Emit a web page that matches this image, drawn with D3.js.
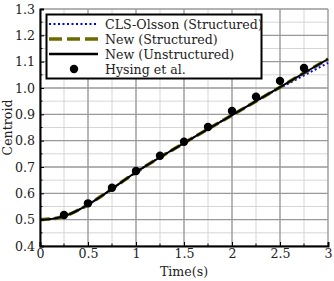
<!DOCTYPE html>
<html>
<head>
<meta charset="utf-8">
<script src="https://cdn.jsdelivr.net/npm/d3@7"></script>
<style>
  body { margin: 0; background: #fff; }
  svg { font-family: "DejaVu Serif", serif; }
</style>
</head>
<body>
<svg id="grafico" width="334" height="281"></svg>
<script>
// dados
const tempos = [0, 0.125, 0.25, 0.375, 0.5, 0.625, 0.75, 0.875, 1.0, 1.125, 1.25, 1.375, 1.5, 1.75, 2.0, 2.25, 2.5, 2.75, 3.0];
const novoEstruturado = [0.500, 0.503, 0.513, 0.532, 0.557, 0.586, 0.617, 0.649, 0.680, 0.709, 0.737, 0.764, 0.791, 0.844, 0.897, 0.950, 1.003, 1.057, 1.110];
const novoNaoEstruturado = [0.500, 0.503, 0.513, 0.532, 0.557, 0.586, 0.617, 0.649, 0.680, 0.709, 0.737, 0.764, 0.791, 0.844, 0.897, 0.950, 1.003, 1.057, 1.110];
const clsOlsson = [0.500, 0.503, 0.513, 0.532, 0.557, 0.586, 0.617, 0.649, 0.680, 0.709, 0.737, 0.764, 0.791, 0.844, 0.897, 0.950, 1.000, 1.048, 1.095];
const temposHysing = [0.25, 0.5, 0.75, 1.0, 1.25, 1.5, 1.75, 2.0, 2.25, 2.5, 2.75];
const valoresHysing = [0.518, 0.562, 0.621, 0.685, 0.743, 0.796, 0.852, 0.913, 0.967, 1.027, 1.076];
const ticksX = [0, 0.5, 1, 1.5, 2, 2.5, 3];
const ticksY = [0.4, 0.5, 0.6, 0.7, 0.8, 0.9, 1.0, 1.1, 1.2, 1.3];
const legendas = ["CLS-Olsson (Structured)", "New (Structured)", "New (Unstructured)", "Hysing et al."];

const svg = d3.select("#grafico");
const margem = { left: 40, right: 6, top: 9, bottom: 35 };
const largura = 334, altura = 281;
const fonte = 12.6;

const x = d3.scaleLinear().domain([0, 3]).range([margem.left, largura - margem.right]);
const y = d3.scaleLinear().domain([0.4, 1.3]).range([altura - margem.bottom, margem.top]);

// grade menor
const menoresX = d3.range(0.25, 3, 0.5);
const menoresY = d3.range(0.45, 1.3, 0.1);
svg.append("g").selectAll("line").data(menoresX).enter().append("line")
  .attr("x1", d => x(d)).attr("x2", d => x(d))
  .attr("y1", y(0.4)).attr("y2", y(1.3))
  .attr("stroke", "#d6d6d6").attr("stroke-width", 1);
svg.append("g").selectAll("line").data(menoresY).enter().append("line")
  .attr("x1", x(0)).attr("x2", x(3))
  .attr("y1", d => y(d)).attr("y2", d => y(d))
  .attr("stroke", "#d6d6d6").attr("stroke-width", 1);

// grade maior
svg.append("g").selectAll("line").data(ticksX).enter().append("line")
  .attr("x1", d => x(d)).attr("x2", d => x(d))
  .attr("y1", y(0.4)).attr("y2", y(1.3))
  .attr("stroke", "#999").attr("stroke-width", 1.4);
svg.append("g").selectAll("line").data(ticksY).enter().append("line")
  .attr("x1", x(0)).attr("x2", x(3))
  .attr("y1", d => y(d)).attr("y2", d => y(d))
  .attr("stroke", "#999").attr("stroke-width", 1.4);

// curvas
const linha = serie => d3.line()
  .x((d, i) => x(tempos[i]))
  .y(d => y(d))
  .curve(d3.curveMonotoneX)(serie);

svg.append("path").attr("d", linha(clsOlsson))
  .attr("fill", "none").attr("stroke", "#0000ff").attr("stroke-width", 2)
  .attr("stroke-dasharray", "2,2.5");
svg.append("path").attr("d", linha(novoEstruturado))
  .attr("fill", "none").attr("stroke", "#6b6b00").attr("stroke-width", 3.5)
  .attr("stroke-dasharray", "10,5");
svg.append("path").attr("d", linha(novoNaoEstruturado))
  .attr("fill", "none").attr("stroke", "#000").attr("stroke-width", 2);

svg.append("g").selectAll("circle").data(valoresHysing).enter().append("circle")
  .attr("cx", (d, i) => x(temposHysing[i]))
  .attr("cy", d => y(d))
  .attr("r", 4.2).attr("fill", "#000");

// eixos
const eixoX = d3.axisBottom(x).tickValues(ticksX).tickSize(-4).tickPadding(3)
  .tickFormat(d => d3.format("~g")(d));
const eixoY = d3.axisLeft(y).tickValues(ticksY).tickSize(-4).tickPadding(5)
  .tickFormat(d3.format(".1f"));

const gx = svg.append("g").attr("transform", `translate(0,${y(0.4)})`).call(eixoX);
const gy = svg.append("g").attr("transform", `translate(${x(0)},0)`).call(eixoY);
[gx, gy].forEach(g => {
  g.select(".domain").attr("stroke", "#000").attr("stroke-width", 2);
  g.selectAll(".tick line").attr("stroke", "#000").attr("stroke-width", 1);
  g.selectAll("text").attr("font-family", "DejaVu Serif").attr("font-size", fonte).attr("fill", "#222");
});

// ticks menores
gx.selectAll(".menor").data(menoresX).enter().append("line")
  .attr("x1", d => x(d)).attr("x2", d => x(d)).attr("y1", 0).attr("y2", -2.5)
  .attr("stroke", "#000");
gy.selectAll(".menor").data(menoresY).enter().append("line")
  .attr("y1", d => y(d)).attr("y2", d => y(d)).attr("x1", 0).attr("x2", 2.5)
  .attr("stroke", "#000");

// rótulos
svg.append("text").attr("x", (x(0) + x(3)) / 2).attr("y", 276)
  .attr("text-anchor", "middle").attr("font-size", fonte).attr("fill", "#222").text("Time(s)");
svg.append("text").attr("transform", `translate(12,${(y(0.4) + y(1.3)) / 2}) rotate(-90)`)
  .attr("text-anchor", "middle").attr("font-size", fonte).attr("fill", "#222").text("Centroid");

// legenda
const leg = svg.append("g");
leg.append("rect").attr("x", 46.5).attr("y", 14.5).attr("width", 215).attr("height", 64)
  .attr("fill", "#fff").attr("stroke", "#000").attr("stroke-width", 2);
const estilos = [
  { cor: "#0000ff", largura: 2, traco: "2,2.5" },
  { cor: "#6b6b00", largura: 3.5, traco: "13,5" },
  { cor: "#000", largura: 2.5, traco: null }
];
legendas.forEach((texto, i) => {
  const ly = 24 + i * 15;
  if (i < 3) {
    leg.append("line").attr("x1", 49).attr("x2", 98).attr("y1", ly).attr("y2", ly)
      .attr("stroke", estilos[i].cor).attr("stroke-width", estilos[i].largura)
      .attr("stroke-dasharray", estilos[i].traco);
  } else {
    leg.append("circle").attr("cx", 74).attr("cy", ly).attr("r", 4.2).attr("fill", "#000");
  }
  leg.append("text").attr("x", 105).attr("y", ly + 4.5)
    .attr("font-size", fonte).attr("fill", "#222").text(texto);
});
</script>
</body>
</html>
